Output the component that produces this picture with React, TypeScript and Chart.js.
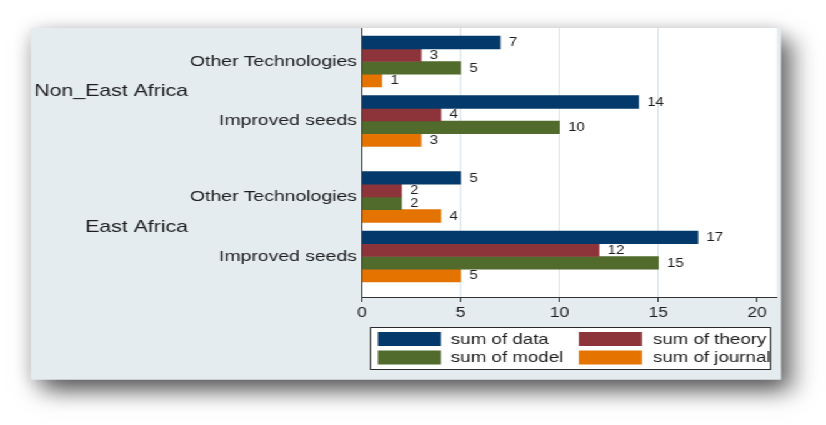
import { useEffect, useRef } from "react";
import { Chart, registerables } from "chart.js";

Chart.register(...registerables);

// ---- data ----
const regions = ["Non_East Africa", "East Africa"];
const technologies = ["Other Technologies", "Improved seeds"];
const seriesNames = ["sum of data", "sum of theory", "sum of model", "sum of journal"];
// rows: Non_East/Other, Non_East/Improved, East/Other, East/Improved
const sumData = [7, 14, 5, 17];
const sumTheory = [3, 4, 2, 12];
const sumModel = [5, 10, 2, 15];
const sumJournal = [1, 3, 4, 5];
const xTickValues = [0, 5, 10, 15, 20];
const xMax = 21;

const seriesValues = [sumData, sumTheory, sumModel, sumJournal];
const seriesColors = ["#043a6b", "#8c343a", "#506b2b", "#e57300"];

// ---- layout (canvas is drawn narrow and widened with a CSS scaleX) ----
const W = 661;
const H = 425;
const STRETCH = 826 / W;
const FONT = "'Liberation Sans', Arial, Helvetica, sans-serif";
const PANEL = { left: 24.8, top: 28, right: 624.8, bottom: 379.5 };
const AREA = { left: 289.6, right: 621.6, top: 28, bottom: 297 };
const X_AXIS_H = 30;
const REGION_STEP = 2.277; // spacing between region blocks, in row units
const Y_MIN = -0.563;
const Y_MAX = 3.958;
const PANEL_BG = "#e4ecf0";
const GRID = "#d8e3e9";
const INK = "#1e1e1e";

// position of every row on the category axis
const rowPositions = regions.flatMap((_, g) => technologies.map((_, i) => g * REGION_STEP + i));
const rowLabels = regions.flatMap(() => technologies);

const panelPlugin = {
  id: "panel",
  beforeDraw(chart: any) {
    const { ctx, chartArea } = chart;
    const w = PANEL.right - PANEL.left;
    const h = PANEL.bottom - PANEL.top;
    ctx.save();
    ctx.fillStyle = PANEL_BG;
    ctx.shadowColor = "rgba(0,0,0,0.16)";
    ctx.shadowBlur = 16;
    ctx.fillRect(PANEL.left, PANEL.top, w, h);
    ctx.shadowColor = "rgba(0,0,0,0.6)";
    ctx.shadowBlur = 20;
    ctx.shadowOffsetX = 8;
    ctx.shadowOffsetY = 12;
    ctx.fillRect(PANEL.left, PANEL.top, w, h);
    ctx.restore();
    ctx.save();
    ctx.fillStyle = PANEL_BG;
    ctx.fillRect(PANEL.left, PANEL.top, w, h);
    ctx.fillStyle = "#ffffff";
    ctx.fillRect(
      chartArea.left,
      chartArea.top,
      chartArea.right - chartArea.left,
      chartArea.bottom - chartArea.top
    );
    ctx.restore();
  },
};

const valueLabelPlugin = {
  id: "valueLabels",
  afterDatasetsDraw(chart: any) {
    const { ctx } = chart;
    ctx.save();
    ctx.font = `12px ${FONT}`;
    ctx.fillStyle = INK;
    ctx.textAlign = "left";
    ctx.textBaseline = "middle";
    chart.data.datasets.forEach((ds: any, di: number) => {
      const meta = chart.getDatasetMeta(di);
      meta.data.forEach((bar: any, i: number) => {
        ctx.fillText(String(ds.data[i].x), bar.x + 7, bar.y + 0.5);
      });
    });
    ctx.restore();
  },
};

const regionLabelPlugin = {
  id: "regionLabels",
  afterDraw(chart: any) {
    const { ctx } = chart;
    const yScale = chart.scales.y;
    ctx.save();
    ctx.font = `17px ${FONT}`;
    ctx.fillStyle = INK;
    ctx.textAlign = "right";
    ctx.textBaseline = "middle";
    regions.forEach((name, g) => {
      const first = yScale.getPixelForValue(g * REGION_STEP);
      const last = yScale.getPixelForValue(g * REGION_STEP + technologies.length - 1);
      ctx.fillText(name, 150.4, (first + last) / 2 + 0.5);
    });
    ctx.restore();
  },
};

const legendPlugin = {
  id: "boxedLegend",
  afterDraw(chart: any) {
    const { ctx } = chart;
    const box = { x: 296, y: 327, w: 320, h: 42 };
    const swatchX = [302.4, 463.2];
    const textX = [360.8, 522.4];
    const rowY = [332, 350.5];
    ctx.save();
    ctx.fillStyle = "#ffffff";
    ctx.fillRect(box.x, box.y, box.w, box.h);
    ctx.strokeStyle = "#2a2a2a";
    ctx.lineWidth = 1;
    ctx.strokeRect(box.x + 0.5, box.y + 0.5, box.w, box.h);
    ctx.font = `15px ${FONT}`;
    ctx.textAlign = "left";
    ctx.textBaseline = "middle";
    chart.data.datasets.forEach((ds: any, i: number) => {
      const col = i % 2;
      const row = Math.floor(i / 2);
      ctx.fillStyle = ds.backgroundColor;
      ctx.fillRect(swatchX[col], rowY[row], 50.5, 14);
      ctx.fillStyle = INK;
      ctx.fillText(ds.label, textX[col], rowY[row] + 7.5);
    });
    ctx.restore();
  },
};

export default function App() {
  const canvasRef = useRef<HTMLCanvasElement | null>(null);

  useEffect(() => {
    if (!canvasRef.current) return;
    const chart = new Chart(canvasRef.current, {
      type: "bar",
      data: {
        datasets: seriesNames.map((name, s) => ({
          label: name,
          data: seriesValues[s].map((v, r) => ({ x: v, y: rowPositions[r] })),
          backgroundColor: seriesColors[s],
          borderWidth: 0,
          barThickness: 12.7,
        })),
      },
      options: {
        indexAxis: "y",
        animation: false,
        responsive: false,
        maintainAspectRatio: false,
        layout: {
          padding: {
            left: 0,
            top: AREA.top,
            right: W - AREA.right,
            bottom: H - AREA.bottom - X_AXIS_H,
          },
        },
        plugins: {
          legend: { display: false },
          tooltip: { enabled: false },
        },
        scales: {
          x: {
            type: "linear",
            position: "bottom",
            min: 0,
            max: xMax,
            afterBuildTicks: (scale: any) => {
              scale.ticks = xTickValues.map((v) => ({ value: v }));
            },
            afterFit: (scale: any) => {
              scale.height = X_AXIS_H;
            },
            grid: {
              color: (ctx: any) =>
                ctx.tick && ctx.tick.value > 0 && ctx.tick.value < 20 ? GRID : "rgba(0,0,0,0)",
              lineWidth: 1,
              drawTicks: true,
              tickLength: 5,
              tickColor: "#333333",
              tickWidth: 1,
            },
            border: { display: true, color: "#333333", width: 1 },
            ticks: {
              font: { family: FONT, size: 14 },
              color: INK,
              padding: 3,
              maxRotation: 0,
            },
          },
          y: {
            type: "linear",
            position: "left",
            reverse: true,
            offset: false,
            min: Y_MIN,
            max: Y_MAX,
            afterBuildTicks: (scale: any) => {
              scale.ticks = rowPositions.map((v) => ({ value: v }));
            },
            afterFit: (scale: any) => {
              scale.width = AREA.left;
            },
            grid: { color: "rgba(0,0,0,0)", drawTicks: false, offset: false },
            border: { display: true, color: "#333333", width: 1 },
            ticks: {
              autoSkip: false,
              font: { family: FONT, size: 15.5 },
              color: INK,
              padding: 4,
              callback: (_v: any, i: number) => rowLabels[i],
            },
          },
        },
      },
      plugins: [panelPlugin, valueLabelPlugin, regionLabelPlugin, legendPlugin],
    } as any);
    return () => chart.destroy();
  }, []);

  return (
    <div
      style={{
        position: "absolute",
        left: 0,
        top: 0,
        width: W,
        height: H,
        transform: `scaleX(${STRETCH})`,
        transformOrigin: "0 0",
        background: "#ffffff",
      }}
    >
      <canvas ref={canvasRef} width={W} height={H} />
    </div>
  );
}
